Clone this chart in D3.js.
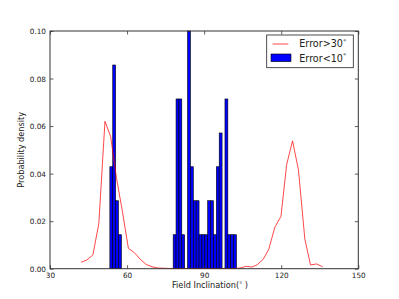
<!DOCTYPE html>
<html>
<head>
<meta charset="utf-8">
<style>
    body { margin: 0; background: white; }
    svg { font-family: 'DejaVu Sans', sans-serif; }
</style>
</head>
<body>
<svg width="399" height="299"></svg>
<script src="https://d3js.org/d3.v7.min.js"></script>
<script>
// histogram for Error<10 (density, 44 bins starting at binStart)
let binStart = 53.3;
let binWidth = 1.12;
let barDensity = [0.0429, 0.0857, 0.0286, 0.0143,
    0, 0, 0, 0, 0, 0, 0, 0, 0, 0, 0, 0, 0, 0, 0, 0, 0, 0,
    0.0143, 0.0714, 0.0714, 0.0143, 0, 0.1, 0.0429, 0.0286, 0.0286, 0.0143, 0.0143,
    0.0143, 0.0286, 0.0286, 0.0143, 0.0429, 0.0571, 0, 0.0714, 0.0143, 0.0143, 0.0143];

// Error>30 curve
let lineX = [42.1, 44.4, 46.7, 49.0, 51.4, 53.6, 55.9, 58.2, 60.5, 62.8, 65.1, 67.4, 69.7, 72.0,
    74.3, 76.6, 78.9, 81.2, 83.5, 85.8, 88.1, 90.4, 92.7, 95.0, 97.3, 99.6, 101.9, 104.0,
    106.4, 108.6, 110.6, 113.0, 115.1, 117.5, 119.9, 122.1, 124.4, 126.7, 129.2, 131.4, 133.8, 136.1];
let lineY = [0.0027, 0.0037, 0.0058, 0.019, 0.062, 0.0556, 0.038, 0.024, 0.0086, 0.0068, 0.004, 0.0018,
    0.0008, 0.0003, 0.0002, 0.0001, 0.0001, 0.0001, 0.0001, 0.0001, 0.0001, 0.0001, 0.0001, 0.0001,
    0.0001, 0.0001, 0.0001, 0.0003, 0.001, 0.0007, 0.0016, 0.004, 0.008, 0.0174, 0.022, 0.0437,
    0.0538, 0.0416, 0.0124, 0.0016, 0.002, 0.0008];

let xTicks = [30, 60, 90, 120, 150];
let yTicks = [0, 0.02, 0.04, 0.06, 0.08, 0.10];

let margin = {top: 31, bottom: 30.3, left: 50, right: 40.7};
let w = 399, h = 299;
let width = w - margin.left - margin.right;
let height = h - margin.top - margin.bottom;

let svg = d3.select("svg");
let g = svg.append("g").attr("transform", "translate(" + margin.left + "," + margin.top + ")");

let x = d3.scaleLinear().domain([30, 150]).range([0, width]);
let y = d3.scaleLinear().domain([0, 0.10]).range([height, 0]);

// bars
let bars = barDensity.map((d, i) => ({x0: binStart + i * binWidth, v: d})).filter(d => d.v > 0);
g.append("g")
    .selectAll("rect")
    .data(bars)
    .join("rect")
    .attr("x", d => x(d.x0))
    .attr("y", d => y(d.v))
    .attr("width", d => x(d.x0 + binWidth) - x(d.x0))
    .attr("height", d => y(0) - y(d.v))
    .style("fill", "#0000ff")
    .style("stroke", "#000")
    .style("stroke-width", 0.6);

// line
let line = d3.line().x((d, i) => x(lineX[i])).y(d => y(d));
g.append("path")
    .datum(lineY)
    .attr("d", line)
    .style("fill", "none")
    .style("stroke", "#ff0000")
    .style("stroke-opacity", 0.8)
    .style("stroke-width", 0.9);

// axes, ticks inside on all four sides
let fmtY = d3.format(".2f");
let axB = g.append("g").attr("transform", "translate(0," + height + ")")
    .call(d3.axisBottom(x).tickValues(xTicks).tickSizeInner(-3.5).tickSizeOuter(0).tickPadding(4));
let axT = g.append("g")
    .call(d3.axisTop(x).tickValues(xTicks).tickSizeInner(-3.5).tickSizeOuter(0).tickFormat(""));
let axL = g.append("g")
    .call(d3.axisLeft(y).tickValues(yTicks).tickSizeInner(-3.5).tickSizeOuter(0).tickFormat(fmtY).tickPadding(4));
let axR = g.append("g").attr("transform", "translate(" + width + ",0)")
    .call(d3.axisRight(y).tickValues(yTicks).tickSizeInner(-3.5).tickSizeOuter(0).tickFormat(""));

[axB, axT, axL, axR].forEach(a => {
    a.select(".domain").remove();
    a.selectAll("line").style("stroke", "#333").style("stroke-width", 0.8);
    a.selectAll("text").style("font-family", "'DejaVu Sans', sans-serif").style("font-size", "7.3px").style("fill", "#222");
});
axL.selectAll("text").attr("dy", "0.36em");

g.append("rect")
    .attr("width", width).attr("height", height)
    .style("fill", "none").style("stroke", "#333").style("stroke-width", 1);

// axis labels
let xl = svg.append("text")
    .attr("x", 210).attr("y", 288)
    .attr("text-anchor", "middle")
    .style("font-size", "8.2px").style("fill", "#222");
xl.append("tspan").text("Field Inclination(");
xl.append("tspan").text("°").style("font-size", "6px").attr("dy", -2);
xl.append("tspan").text(" )").attr("dy", 2);

svg.append("text")
    .attr("transform", "translate(24," + (margin.top + height / 2) + ") rotate(-90)")
    .attr("text-anchor", "middle")
    .style("font-size", "8.2px").style("fill", "#222")
    .text("Probability density");

// legend
let lg = svg.append("g").attr("transform", "translate(266.7,35)");
lg.append("rect").attr("width", 86.6).attr("height", 32.7)
    .style("fill", "white").style("stroke", "#222").style("stroke-width", 0.8);
lg.append("line").attr("x1", 6).attr("x2", 21.6).attr("y1", 9).attr("y2", 9)
    .style("stroke", "#ff0000").style("stroke-opacity", 0.8).style("stroke-width", 0.9);
lg.append("rect").attr("x", 4.3).attr("y", 19).attr("width", 20).attr("height", 7.6)
    .style("fill", "#0000ff").style("stroke", "#000").style("stroke-width", 0.6);

let labels = [["Error>30", 12.3], ["Error<10", 26.5]];
labels.forEach(l => {
    let t = lg.append("text").attr("x", 32.6).attr("y", l[1])
        .style("font-size", "9.6px").style("fill", "#222");
    t.append("tspan").text(l[0]);
    t.append("tspan").text("°").style("font-size", "6.5px").attr("dy", -3.5);
});
</script>
</body>
</html>
